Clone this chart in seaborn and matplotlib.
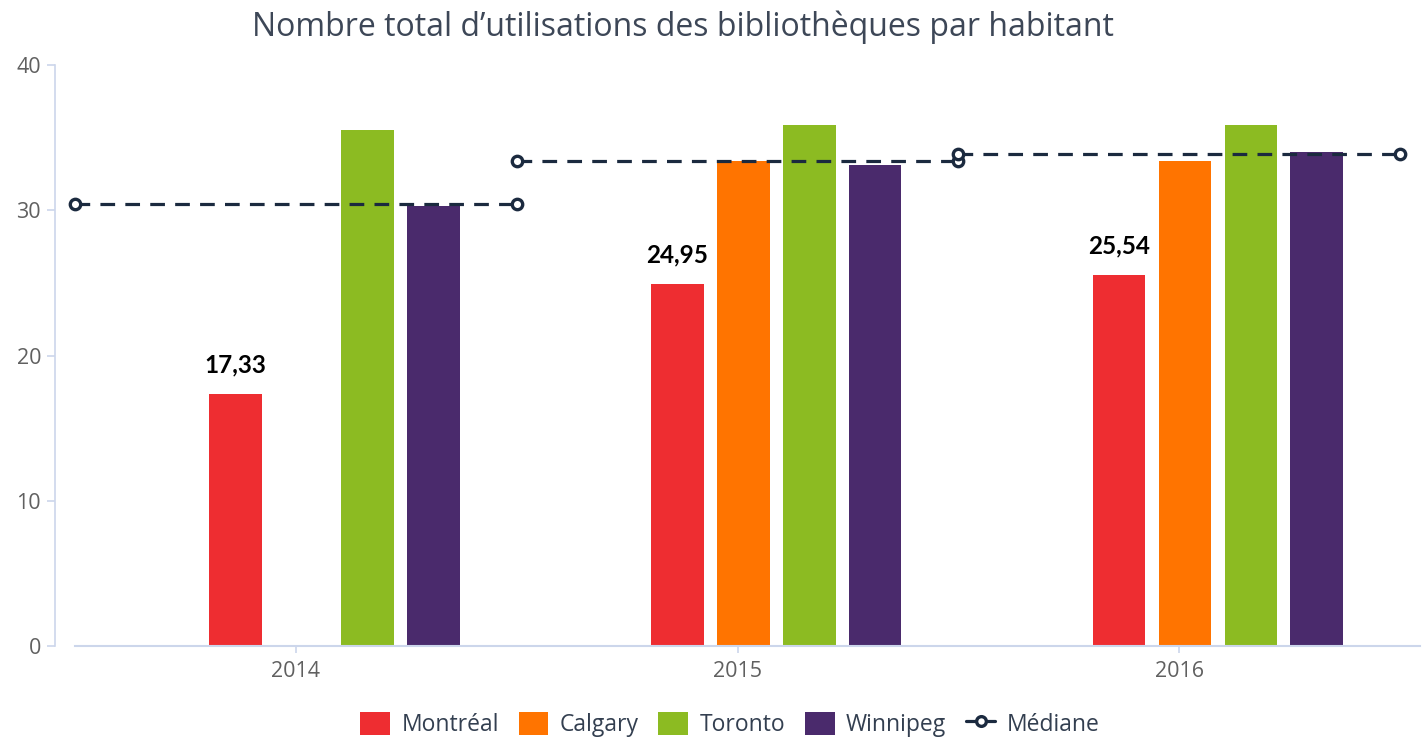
import matplotlib
matplotlib.use("Agg")
import matplotlib.pyplot as plt
import seaborn as sns
import pandas as pd
import numpy as np
from matplotlib.patches import Patch
from matplotlib.lines import Line2D

# ---- data ----
years = ["2014", "2015", "2016"]
cities = ["Montréal", "Calgary", "Toronto", "Winnipeg"]
montreal = [17.33, 24.95, 25.54]
calgary = [np.nan, 33.4, 33.4]
toronto = [35.5, 35.9, 35.9]
winnipeg = [30.3, 33.1, 34.0]
mediane = [30.4, 33.4, 33.9]
montreal_labels = ["17,33", "24,95", "25,54"]
title = "Nombre total d\u2019utilisations des bibliothèques par habitant"
yticks = [0, 10, 20, 30, 40]

colors = {"Montréal": "#ee2d31", "Calgary": "#ff7400", "Toronto": "#8cbb22",
          "Winnipeg": "#4a2a6c", "_pad": "#ffffff"}
median_color = "#1b2a3f"

rows = []
for vals, c in zip([montreal, calgary, toronto, winnipeg], cities):
    for y, v in zip(years, vals):
        rows.append({"Année": y, "Ville": c, "Valeur": v})
df = pd.DataFrame(rows)

sns.set_theme(style="white")
plt.rcParams["font.family"] = ["Open Sans", "DejaVu Sans"]

fig = plt.figure(figsize=(14.26, 7.37), dpi=100)
ax = fig.add_axes([55/1426, 1-646/737, (1420-55)/1426, (646-65)/737])

sns.barplot(data=df, x="Année", y="Valeur", hue="Ville",
            order=years, hue_order=["_pad"] + cities, palette=colors,
            width=0.746, gap=0.2, dodge=True, saturation=1,
            legend=False, ax=ax, errorbar=None)
for p in ax.patches:
    p.set_x(p.get_x() + 0.013)
    p.set_linewidth(0)

# data labels on Montréal bars
mont_bars = [p for p in ax.patches if p.get_height() > 0 and
             np.allclose(p.get_facecolor()[:3], matplotlib.colors.to_rgb(colors["Montréal"]))]
mont_bars = sorted(mont_bars, key=lambda p: p.get_x())
for p, lab in zip(mont_bars, montreal_labels):
    ax.annotate(lab, (p.get_x() + p.get_width()/2, p.get_height()),
                xytext=(0, 15.5), textcoords="offset points",
                ha="center", va="baseline", fontsize=17.5, fontweight="bold",
                color="black", family=["Lato", "DejaVu Sans"])

# median segments
for i, m in enumerate(mediane):
    ax.plot([i - 0.5, i + 0.5], [m, m], color=median_color, lw=2.3,
            linestyle=(0, (4.6, 3.2)), marker="o", markersize=7.5,
            markerfacecolor="white", markeredgecolor=median_color,
            markeredgewidth=2.4, zorder=5, clip_on=False)

ax.set_xlim(-0.545, 2.545)
ax.set_ylim(0, 40)
ax.set_yticks(yticks)
ax.set_xlabel("")
ax.set_ylabel("")
for s in ["top", "right"]:
    ax.spines[s].set_visible(False)
axis_col = "#ccd6eb"
ax.spines["left"].set_color(axis_col)
ax.spines["left"].set_linewidth(1.2)
ax.spines["bottom"].set_color(axis_col)
ax.spines["bottom"].set_linewidth(1.5)
ax.spines["bottom"].set_bounds(-0.5, 2.545)
ax.tick_params(axis="y", length=6, width=1.2, color=axis_col, pad=4,
               labelsize=15.5, labelcolor="#606060", left=True)
ax.tick_params(axis="x", length=5, width=1.2, color=axis_col, pad=6,
               labelsize=15.5, labelcolor="#606060", bottom=True)

fig.text(0.479, 0.963, title, ha="center", va="center", fontsize=23,
         color="#3d4757")

handles = [Patch(facecolor=colors[c], edgecolor="none", label=c) for c in cities]
handles.append(Line2D([0], [0], color=median_color, lw=2.3, marker="o",
                      markersize=7, markerfacecolor="white",
                      markeredgecolor=median_color, markeredgewidth=2.4,
                      label="Médiane"))
leg = fig.legend(handles=handles, loc="center", bbox_to_anchor=(0.512, 0.017),
                 ncol=5, frameon=False, fontsize=16.5, handlelength=1.3,
                 handleheight=1.15, handletextpad=0.5, columnspacing=0.85,
                 labelcolor="#333f50")

fig.savefig("out.png", dpi=100)
